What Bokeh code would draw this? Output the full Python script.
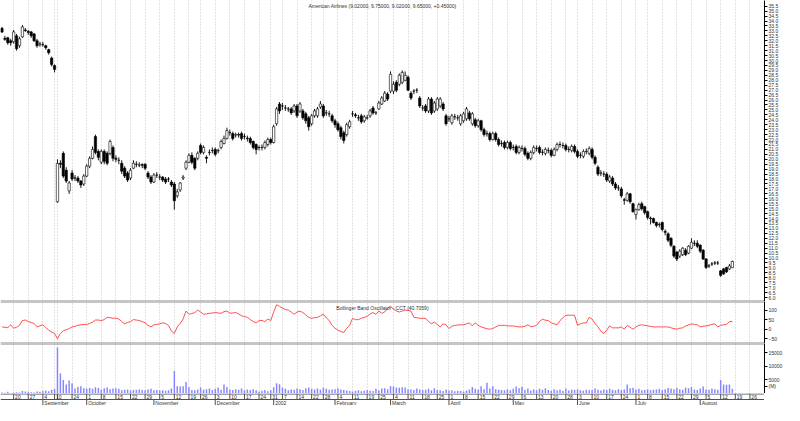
import pandas as pd
from bokeh.plotting import figure
from bokeh.layouts import column
from bokeh.models import (ColumnDataSource, Range1d, FixedTicker, NumeralTickFormatter,
                          Span, Label)
from bokeh.embed import file_html
from bokeh.resources import INLINE
from bokeh.core.properties import value

FONT = "Liberation Sans"
STOCK_NAME = "American Airlines"
OSC_NAME = "Bollinger Band Oscillator - CCT"
MONTH_LABELS = {1: "2002", 2: "February", 3: "March", 4: "April", 5: "May", 6: "June",
                7: "July", 8: "August", 9: "September", 10: "October", 11: "November",
                12: "December"}
FIRST_DAY = "2001-08-14"
LAST_AXIS_DAY = "2002-09-06"
CLOSED_DAYS = ["2001-09-03", "2001-09-11", "2001-09-12", "2001-09-13", "2001-09-14",
               "2001-11-22", "2001-12-25", "2002-01-01", "2002-01-21", "2002-02-18",
               "2002-03-29", "2002-05-27", "2002-07-04", "2002-09-02"]

opens = [33.26, 32.25, 32.3, 32.0, 31.9, 32.5, 31.5, 32.4, 33.1, 32.95,
         32.9, 32.7, 32.0, 31.6, 31.6, 31.5, 31.1, 30.25, 29.5, 15.69,
         19.6, 20.6, 18.9, 16.8, 18.6, 18.1, 18.1, 17.8, 17.5, 18.3,
         19.3, 20.1, 22.3, 20.8, 19.7, 20.8, 20.6, 20.6, 21.2, 20.1,
         19.9, 19.6, 19.1, 18.6, 18.1, 19.1, 19.5, 19.4, 19.45, 19.5,
         18.6, 18.2, 17.7, 18.4, 18.2, 18.2, 18.0, 18.0, 17.7, 17.5,
         16.3, 16.9, 18.1, 19.1, 19.7, 20.4, 20.1, 20.1, 21.4, 20.7,
         20.2, 20.7, 20.9, 21.0, 20.85, 21.2, 21.6, 22.1, 22.7, 22.6,
         22.45, 22.5, 22.6, 22.3, 22.15, 22.1, 21.8, 21.5, 21.2, 21.2,
         21.2, 21.5, 22.0, 21.7, 23.6, 25.6, 25.4, 25.2, 25.1, 25.1,
         24.9, 25.4, 24.9, 24.9, 24.6, 24.2, 23.6, 24.4, 24.4, 25.3,
         25.4, 24.7, 24.6, 24.4, 23.9, 23.6, 23.2, 22.7, 22.5, 23.3,
         24.6, 24.5, 24.2, 24.4, 23.9, 24.2, 24.4, 25.2, 24.7, 25.1,
         25.6, 25.9, 26.6, 26.9, 26.9, 27.8, 27.6, 27.8, 28.0, 28.3,
         26.7, 26.9, 27.0, 26.2, 25.2, 25.4, 24.9, 26.1, 24.9, 25.1,
         25.4, 25.6, 24.4, 24.1, 23.7, 24.3, 24.2, 23.6, 23.9, 24.1,
         24.7, 23.6, 24.0, 23.4, 23.9, 23.0, 22.6, 22.6, 22.0, 22.6,
         22.0, 21.6, 21.7, 21.2, 21.7, 21.2, 21.3, 20.7, 21.1, 21.1,
         20.6, 20.1, 20.7, 21.1, 21.2, 20.7, 20.6, 20.9, 20.9, 20.4,
         21.0, 21.5, 21.4, 21.4, 21.0, 20.9, 21.3, 20.8, 20.4, 20.3,
         20.8, 20.6, 21.0, 20.2, 19.2, 18.6, 18.5, 18.5, 17.8, 18.1,
         17.5, 17.1, 17.0, 15.9, 15.85, 16.5, 15.5, 14.4, 14.9, 15.5,
         15.2, 14.7, 14.05, 14.0, 13.6, 13.4, 13.6, 12.7, 12.45, 12.0,
         11.2, 10.6, 10.2, 10.35, 10.8, 10.5, 11.0, 11.5, 11.5, 11.3,
         10.8, 9.9, 9.2, 9.4, 9.5, 9.5, 8.7, 8.9, 9.05, 8.9,
         9.02]
highs = [33.4, 32.5, 32.4, 32.2, 33.1, 32.7, 32.4, 33.6, 33.3, 33.1,
         33.0, 32.8, 32.2, 31.9, 31.9, 31.6, 31.2, 30.4, 29.6, 20.0,
         19.9, 20.8, 19.2, 17.8, 18.9, 18.4, 18.3, 17.9, 18.5, 19.5,
         20.3, 21.3, 22.5, 21.0, 21.0, 21.0, 20.8, 22.0, 21.4, 20.4,
         20.2, 19.9, 19.3, 18.8, 19.1, 19.9, 19.8, 19.7, 19.6, 19.6,
         18.8, 18.4, 18.6, 18.7, 18.5, 18.3, 18.2, 18.2, 17.9, 17.7,
         17.0, 17.7, 18.4, 19.9, 20.6, 20.7, 20.2, 20.8, 21.6, 21.4,
         20.4, 21.0, 21.2, 21.2, 21.1, 22.0, 22.4, 23.2, 23.0, 22.8,
         22.7, 22.7, 22.8, 22.6, 22.4, 22.3, 21.9, 21.6, 21.4, 21.5,
         21.9, 22.2, 22.2, 23.5, 25.3, 25.8, 25.7, 25.5, 25.3, 25.3,
         25.6, 25.6, 25.8, 25.1, 24.8, 24.4, 24.6, 25.1, 25.3, 25.9,
         25.6, 25.0, 24.9, 24.6, 24.1, 23.8, 23.4, 22.9, 23.7, 24.0,
         24.9, 24.7, 24.5, 24.6, 24.5, 24.5, 25.1, 25.4, 24.9, 25.9,
         26.4, 26.9, 26.8, 28.9, 27.9, 28.0, 28.7, 29.0, 28.9, 28.5,
         26.9, 27.1, 27.2, 26.4, 25.5, 25.6, 26.3, 26.3, 25.9, 26.3,
         26.3, 25.8, 24.6, 24.4, 24.6, 24.6, 24.5, 24.6, 24.8, 25.3,
         24.9, 24.8, 24.2, 24.1, 24.0, 23.2, 22.9, 22.8, 22.8, 22.8,
         22.2, 21.9, 21.9, 21.9, 21.9, 21.5, 21.5, 21.4, 21.4, 21.3,
         20.8, 20.9, 21.4, 21.4, 21.4, 21.0, 21.2, 21.2, 21.1, 21.2,
         21.7, 21.8, 21.7, 21.6, 21.3, 21.5, 21.5, 21.0, 20.7, 21.0,
         21.1, 21.3, 21.2, 20.4, 19.4, 18.9, 18.8, 18.7, 18.4, 18.3,
         17.7, 17.4, 17.2, 16.1, 16.7, 16.6, 15.6, 15.0, 15.6, 15.7,
         15.3, 14.8, 14.2, 14.1, 13.7, 13.6, 13.7, 12.9, 12.6, 12.1,
         11.3, 10.7, 10.9, 11.1, 11.0, 11.3, 12.0, 11.8, 11.8, 11.4,
         10.9, 10.0, 9.4, 9.6, 9.7, 9.7, 8.8, 9.0, 9.1, 9.4,
         9.75]
lows = [32.8, 32.0, 31.6, 31.5, 31.7, 31.0, 31.3, 32.3, 32.9, 32.6,
        32.3, 31.9, 31.3, 31.4, 31.4, 31.1, 30.6, 29.4, 28.8, 15.6,
        19.1, 18.1, 17.6, 16.5, 17.8, 17.8, 17.6, 17.1, 17.3, 18.2,
        19.1, 20.0, 20.5, 19.9, 19.5, 19.5, 19.4, 20.4, 19.8, 19.7,
        19.5, 18.5, 18.1, 17.7, 17.9, 19.0, 19.2, 19.2, 19.1, 18.9,
        18.0, 17.5, 17.6, 18.1, 17.9, 17.7, 17.5, 17.7, 17.2, 14.9,
        16.1, 16.7, 17.9, 18.9, 19.6, 19.5, 18.9, 19.9, 20.5, 20.5,
        19.6, 20.4, 20.6, 20.3, 20.6, 21.0, 21.5, 22.0, 22.4, 21.9,
        22.2, 22.2, 21.9, 22.0, 21.8, 21.5, 21.0, 20.5, 20.9, 20.9,
        21.0, 21.3, 21.5, 21.6, 23.4, 24.6, 25.0, 24.9, 24.8, 24.5,
        24.7, 24.2, 24.7, 24.0, 23.6, 22.9, 23.4, 24.2, 24.2, 25.1,
        24.2, 24.4, 24.3, 23.7, 23.2, 22.8, 22.0, 21.6, 22.3, 23.1,
        24.3, 24.2, 23.9, 23.6, 23.7, 24.0, 24.2, 24.5, 24.5, 25.0,
        25.5, 25.8, 25.9, 26.7, 26.6, 26.8, 27.4, 27.6, 27.9, 26.9,
        26.0, 26.6, 26.7, 25.2, 24.9, 24.7, 24.7, 24.5, 24.7, 24.9,
        25.2, 24.9, 23.4, 23.8, 23.5, 24.0, 23.9, 23.4, 23.7, 23.9,
        23.9, 23.4, 23.2, 23.2, 22.8, 22.3, 22.3, 21.8, 21.9, 21.8,
        21.3, 21.3, 21.0, 21.0, 20.9, 20.9, 20.5, 20.5, 20.8, 20.3,
        19.9, 19.9, 20.5, 20.8, 20.5, 20.4, 20.4, 20.6, 20.2, 20.3,
        20.8, 21.2, 21.1, 20.8, 20.7, 20.7, 20.6, 20.1, 20.1, 20.1,
        20.5, 20.4, 20.0, 19.4, 18.3, 18.3, 18.2, 17.7, 17.6, 17.3,
        16.9, 16.8, 16.1, 15.4, 15.7, 15.5, 14.6, 13.9, 14.8, 14.8,
        14.4, 13.9, 13.4, 13.5, 13.1, 13.1, 12.7, 12.3, 11.6, 11.1,
        10.0, 9.7, 10.0, 10.2, 10.2, 10.4, 10.9, 11.2, 11.0, 10.5,
        9.8, 8.9, 9.0, 9.2, 9.3, 9.3, 8.1, 8.3, 8.5, 8.8,
        9.02]
closes = [32.88, 32.15, 31.8, 31.8, 32.9, 31.2, 32.2, 33.4, 33.05, 32.85,
          32.5, 32.0, 31.5, 31.7, 31.6, 31.3, 30.8, 29.6, 29.1, 19.58,
          19.5, 18.3, 17.8, 17.6, 18.0, 18.1, 17.8, 17.4, 18.3, 19.3,
          20.1, 21.0, 20.7, 20.2, 20.8, 19.8, 19.6, 21.8, 20.1, 20.0,
          19.9, 18.8, 18.3, 17.9, 18.9, 19.6, 19.5, 19.45, 19.4, 19.1,
          18.2, 17.7, 18.4, 18.4, 18.2, 17.9, 17.7, 18.0, 17.4, 15.8,
          16.7, 17.6, 18.2, 19.7, 20.4, 19.7, 19.1, 20.6, 20.7, 21.2,
          20.1, 20.7, 20.9, 20.5, 20.9, 21.8, 22.1, 22.9, 22.7, 22.1,
          22.5, 22.45, 22.1, 22.3, 22.1, 21.7, 21.2, 21.0, 21.2, 21.2,
          21.7, 22.0, 21.7, 23.3, 25.1, 24.9, 25.4, 25.2, 25.1, 24.7,
          25.4, 24.4, 25.6, 24.2, 23.9, 23.3, 24.4, 24.9, 25.1, 25.6,
          24.4, 24.7, 24.6, 23.9, 23.5, 23.0, 22.3, 21.9, 23.5, 23.8,
          24.6, 24.4, 24.2, 23.8, 24.3, 24.2, 24.9, 24.7, 24.7, 25.7,
          26.2, 26.7, 26.1, 28.6, 27.6, 27.0, 28.5, 28.8, 28.5, 27.0,
          26.2, 26.9, 27.0, 25.4, 25.2, 24.9, 26.1, 24.7, 25.7, 26.1,
          26.1, 25.1, 23.6, 24.1, 24.4, 24.3, 24.2, 24.4, 24.6, 25.1,
          24.1, 24.6, 23.4, 23.9, 23.0, 22.5, 22.6, 22.0, 22.6, 22.0,
          21.5, 21.6, 21.2, 21.7, 21.1, 21.2, 20.7, 21.2, 21.1, 20.5,
          20.1, 20.7, 21.2, 21.1, 20.7, 20.7, 21.0, 20.9, 20.4, 21.0,
          21.5, 21.5, 21.4, 21.0, 21.0, 21.3, 20.8, 20.3, 20.4, 20.8,
          20.8, 21.1, 20.2, 19.6, 18.5, 18.6, 18.5, 17.9, 18.2, 17.5,
          17.1, 17.1, 16.3, 15.85, 16.5, 15.7, 14.7, 14.9, 15.4, 15.0,
          14.6, 14.1, 14.0, 13.6, 13.3, 13.4, 12.9, 12.6, 11.8, 11.3,
          10.2, 9.9, 10.7, 11.0, 10.35, 11.2, 11.6, 11.5, 11.2, 10.7,
          9.9, 9.05, 9.2, 9.4, 9.5, 9.5, 8.25, 8.4, 8.6, 9.2,
          9.65]
volume = [400, 300, 600, 200, 300, 500, 400, 900, 700, 600,
          500, 400, 700, 600, 900, 1100, 800, 1400, 1700, 16900,
          7300, 5000, 3300, 4800, 3800, 1800, 2400, 2700, 1900, 1800,
          2000, 1700, 2300, 2000, 1500, 1900, 2200, 1600, 1800, 1900,
          1700, 1200, 1400, 1500, 1100, 1300, 1400, 1500, 1300, 1200,
          1500, 1700, 1200, 1300, 1100, 1200, 1000, 1200, 1800, 8300,
          2700, 2600, 2700, 4200, 2300, 1300, 1200, 1500, 2200, 1400,
          1600, 1800, 1300, 1700, 2200, 1400, 3300, 2400, 1500, 1300,
          1600, 1400, 1800, 1200, 1500, 1300, 1600, 1200, 700, 1000,
          1300, 800, 1200, 2300, 3800, 3400, 2100, 1700, 1200, 1500,
          1400, 1800, 1600, 1300, 1900, 2200, 1700, 1500, 1800, 1400,
          2100, 1700, 1400, 1500, 1600, 1900, 1500, 1300, 1100, 900,
          700, 1000, 1200, 800, 1000, 1300, 1000, 900, 1700, 1100,
          1800, 1900, 1600, 2700, 2600, 2200, 2100, 2300, 2200, 1600,
          1500, 1300, 1800, 1500, 1300, 1400, 1700, 1200, 1900, 1300,
          1200, 900, 1500, 1100, 1200, 800, 1000, 900, 700, 1100,
          1500, 2400, 1700, 1500, 2700, 1600, 3900, 1800, 2700, 1600,
          1400, 1300, 1200, 1600, 1200, 1700, 2600, 1900, 2500, 1300,
          1800, 1100, 1500, 1200, 1700, 1400, 1900, 1300, 1000, 1600,
          1200, 1400, 1000, 1800, 1100, 1400, 1300, 1600, 1200, 1000,
          1400, 1200, 1300, 1800, 1400, 1100, 1500, 1300, 1700, 1400,
          1200, 1600, 1300, 1500, 3300, 1900, 2100, 1500, 1700, 1200,
          1300, 1600, 1200, 1400, 1500, 1700, 1300, 1600, 2000, 1800,
          1600, 2000, 1600, 1400, 2200, 1900, 2400, 1500, 1300, 1800,
          2600, 1500, 1400, 1800, 1600, 1400, 5000, 3300, 3200, 3300,
          1700]
oscillator = [12, 10, 8, 23, 5, 10, 20, 45, 48, 40,
              35, 30, 12, 18, 23, 8, -5, -15, -22, -50,
              -22, -8, -3, 3, 12, 15, 20, 23, 25, 25,
              30, 37, 48, 48, 45, 50, 62, 60, 57, 58,
              53, 40, 28, 35, 40, 50, 48, 45, 40, 33,
              20, 12, 23, 25, 28, 33, 30, 20, -10, -22,
              12, 30, 53, 95, 78, 82, 87, 100, 90, 78,
              80, 83, 85, 87, 85, 83, 92, 95, 83, 85,
              87, 80, 70, 66, 62, 50, 40, 33, 45, 45,
              40, 53, 45, 90, 128, 120, 110, 103, 100, 90,
              78, 90, 95, 87, 75, 62, 57, 60, 62, 70,
              78, 60, 45, 20, 5, -5, -12, -17, 5, 20,
              57, 50, 50, 57, 62, 67, 80, 87, 78, 95,
              83, 90, 112, 120, 105, 95, 90, 95, 100, 98,
              95, 62, 60, 57, 57, 57, 40, 28, 37, 25,
              12, 28, 23, 3, 15, 20, 22, 23, 23, 28,
              33, 17, 33, 20, 12, 7, 2, 0, 3, 12,
              20, 20, 20, 17, 17, 17, 14, 12, 12, 15,
              23, 12, 15, 20, 40, 53, 47, 45, 33, 28,
              23, 45, 60, 73, 73, 73, 73, 20, 28, 33,
              33, 62, 53, 30, 12, -10, -22, -5, 17, 7,
              7, 7, 12, 0, 20, 10, 0, 12, 20, 23,
              20, 17, 15, 12, 12, 12, 12, 12, 12, 7,
              3, 0, 5, 7, 17, 22, 28, 25, 23, 12,
              15, 17, 20, 25, 28, 12, 20, 23, 25, 40,
              40.7059]

PRICE_TICKS = [6.0 + 0.5 * k for k in range(60)]
OSC_TICKS = [-50, 0, 50, 100]
VOL_TICKS = [2600, 5000, 10000, 15000]
VOL_TICK_TEXT = {2600: "(M)"}

# ---------------- trading-day axis ----------------
X_START, X_END = -0.5, 261
closed = set(pd.to_datetime(CLOSED_DAYS))
days = [d for d in pd.bdate_range(FIRST_DAY, LAST_AXIS_DAY) if d not in closed]
n = len(closes)
idx = list(range(n))

week_idx, day_lab_x, day_lab = [], [], []
month_idx, month_lab = [], []
last_lab = -10
for i in range(1, len(days)):
    d, prev = days[i], days[i - 1]
    if d.isocalendar()[1] != prev.isocalendar()[1]:
        week_idx.append(i)
        if i - last_lab >= 3 and i + 2 < X_END:
            day_lab_x.append(i + 0.5)
            day_lab.append(str(d.day))
            last_lab = i
    if d.month != prev.month:
        month_idx.append(i)
        if i + 9 < X_END:
            month_lab.append((i, MONTH_LABELS[d.month]))

xr = Range1d(X_START, X_END)
FW = 764
GRID_COLOR = "#c4c4c4"
SEP_COLOR = "#8c8c8c"
TXT = "#303030"


def make_fig(h, y0, y1, ticks):
    p = figure(frame_width=FW, frame_height=h, x_range=xr, y_range=Range1d(y0, y1),
               output_backend="svg", toolbar_location=None, x_axis_location=None,
               y_axis_location="right", min_border=0, outline_line_color=None)
    p.xgrid.ticker = FixedTicker(ticks=week_idx)
    p.xgrid.grid_line_color = GRID_COLOR
    p.xgrid.grid_line_dash = "1 2"
    p.ygrid.visible = False
    ax = p.yaxis[0]
    ax.ticker = FixedTicker(ticks=ticks)
    ax.axis_line_color = "black"
    ax.major_tick_line_color = "black"
    ax.major_tick_out = 3
    ax.major_tick_in = 0
    ax.minor_tick_line_color = None
    ax.major_label_text_font_size = "5px"
    ax.major_label_text_font = FONT
    ax.major_label_text_color = TXT
    ax.major_label_standoff = 1
    return p


# ---------------- price panel ----------------
P_MIN, P_MAX = 5.6, 36.08
pp = make_fig(301, P_MIN, P_MAX, PRICE_TICKS)
pp.yaxis[0].formatter = NumeralTickFormatter(format="0.0")
src = ColumnDataSource(dict(
    x=idx, high=highs, low=lows,
    top=[max(o, c) for o, c in zip(opens, closes)],
    bottom=[min(o, c) for o, c in zip(opens, closes)],
    fill=["white" if c >= o else "black" for o, c in zip(opens, closes)],
))
pp.segment(x0="x", y0="low", x1="x", y1="high", source=src, line_color="black", line_width=0.9)
pp.vbar(x="x", width=0.8, top="top", bottom="bottom", fill_color="fill",
        line_color="black", line_width=0.6, source=src)
pp.add_layout(Span(location=P_MIN, dimension="width", line_color=SEP_COLOR, line_width=2))
title_txt = (f"{STOCK_NAME} ({opens[-1]:.5f}, {highs[-1]:.5f}, {lows[-1]:.5f}, "
             f"{closes[-1]:.5f}, {closes[-1] - closes[-2]:+.5f})")
pp.add_layout(Label(x=(X_START + X_END) / 2, y=P_MAX - 0.25, text=title_txt,
                    text_align="center", text_baseline="top", text_font_size="5px",
                    text_font=FONT, text_color=TXT))

# ---------------- oscillator panel ----------------
O_MIN, O_MAX = -75, 145
po = make_fig(42, O_MIN, O_MAX, OSC_TICKS)
po.line(idx, oscillator, line_color="#ff5050", line_width=1)
po.add_layout(Span(location=O_MAX, dimension="width", line_color=SEP_COLOR, line_width=2))
po.add_layout(Span(location=O_MIN, dimension="width", line_color=SEP_COLOR, line_width=2))
po.add_layout(Label(x=(X_START + X_END) / 2, y=O_MAX - 18,
                    text=f"{OSC_NAME} ({oscillator[-1]:.4f})",
                    text_align="center", text_baseline="top", text_font_size="5px",
                    text_font=FONT, text_color=TXT))

# ---------------- volume panel ----------------
V_MIN, V_MAX = 0, 18350
pv = make_fig(50, V_MIN, V_MAX, VOL_TICKS)
pv.yaxis[0].major_label_overrides = VOL_TICK_TEXT
pv.vbar(x=idx, top=volume, bottom=0, width=0.5, fill_color="#8585ff", line_color=None)
pv.add_layout(Span(location=V_MAX, dimension="width", line_color=SEP_COLOR, line_width=2))

# ---------------- date strip ----------------
ps = make_fig(12, 0, 12, [])
ps.xgrid.visible = False
ps.yaxis[0].major_tick_out = 0
ps.add_layout(Span(location=11.5, dimension="width", line_color="#505050", line_width=1))
ps.add_layout(Span(location=6.0, dimension="width", line_color="#505050", line_width=1))
ps.segment(x0=week_idx, y0=[6.0] * len(week_idx), x1=week_idx, y1=[12] * len(week_idx),
           line_color="#505050", line_width=1)
ps.segment(x0=month_idx, y0=[0] * len(month_idx), x1=month_idx, y1=[6.0] * len(month_idx),
           line_color="#505050", line_width=1)
ps.text(x=day_lab_x, y=[8.8] * len(day_lab), text=day_lab, text_font=value(FONT),
        text_font_size="5px", text_align="left", text_baseline="middle", text_color=TXT)
ps.text(x=[m + 0.5 for m, _ in month_lab], y=[3.0] * len(month_lab),
        text=[t for _, t in month_lab], text_font=value(FONT), text_font_size="5px",
        text_align="left", text_baseline="middle", text_color=TXT)

layout = column(pp, po, pv, ps, spacing=0)
open("out.html", "w").write(file_html(layout, INLINE))
